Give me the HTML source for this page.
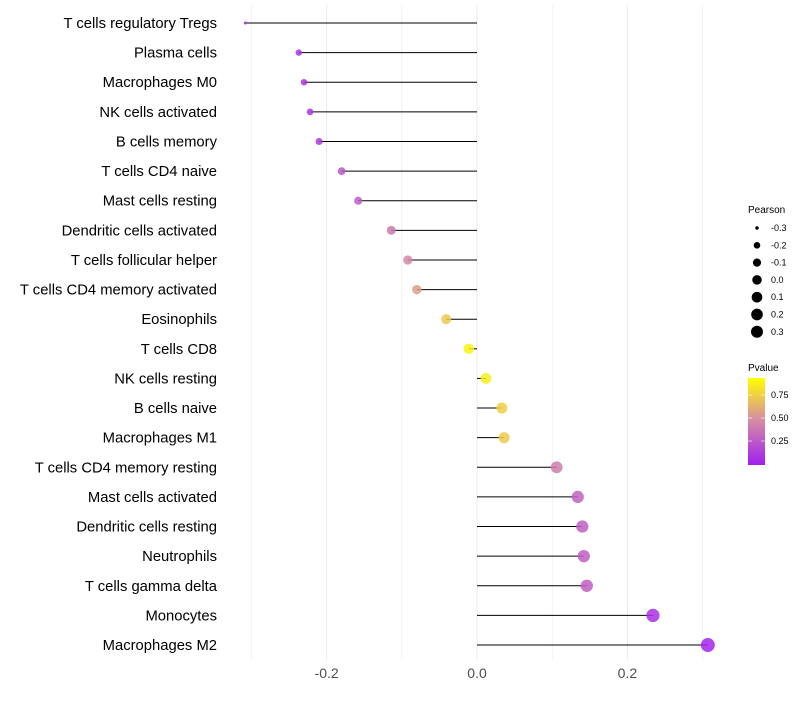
<!DOCTYPE html>
<html><head><meta charset="utf-8"><style>
body{margin:0;background:#fff;font-family:"Liberation Sans",sans-serif}
</style></head><body>
<svg id="chart" width="800" height="700" xmlns="http://www.w3.org/2000/svg">
<defs><linearGradient id="pg" x1="0" y1="1" x2="0" y2="0">
<stop offset="0" stop-color="#A020F0"/><stop offset="0.535" stop-color="#D890A0"/><stop offset="1" stop-color="#FFFF00"/></linearGradient></defs>
<g id="grid"></g><g id="marks"></g><g id="labels"></g><g id="xaxis"></g>
<g font-size="9" fill="#000">
<text x="748" y="213" font-size="10">Pearson</text>
<g id="sizeleg"></g></g>
<g font-size="9">
<text x="748" y="371" font-size="10">Pvalue</text>
<rect x="748" y="378" width="17" height="87" fill="url(#pg)"/>
<g id="cbticks"></g></g>
</svg>
<script>
const categories=["T cells regulatory  Tregs","Plasma cells","Macrophages M0","NK cells activated","B cells memory","T cells CD4 naive","Mast cells resting","Dendritic cells activated","T cells follicular helper","T cells CD4 memory activated","Eosinophils","T cells CD8","NK cells resting","B cells naive","Macrophages M1","T cells CD4 memory resting","Mast cells activated","Dendritic cells resting","Neutrophils","T cells gamma delta","Monocytes","Macrophages M2"];
const pearson=[-0.308,-0.237,-0.230,-0.222,-0.210,-0.180,-0.158,-0.114,-0.092,-0.080,-0.041,-0.011,0.012,0.033,0.036,0.106,0.134,0.140,0.142,0.146,0.234,0.307];
const pvalue=[0.04,0.08,0.09,0.11,0.12,0.25,0.3,0.42,0.5,0.6,0.78,0.95,0.93,0.8,0.78,0.45,0.32,0.3,0.3,0.3,0.08,0.03];
const xTicks=[-0.2,0,0.2];
const xGrid=[-0.3,-0.2,-0.1,0,0.1,0.2,0.3];
const sizeLegend=[-0.3,-0.2,-0.1,0.0,0.1,0.2,0.3];
const pTicks=[0.25,0.5,0.75];
const NS="http://www.w3.org/2000/svg";
const x=v=>477+v*752;
const y=i=>23+i*29.62;
const r=v=>1.2+Math.sqrt(Math.max(0,(v+0.31)/0.62))*5.8;
const pY=p=>464-p*92;
function lerp(a,b,t){return a.map((c,k)=>Math.round(c+(b[k]-c)*t));}
function col(p){const s0=[160,32,240],s1=[216,144,160],s2=[255,255,0];
 const c=p<0.535?lerp(s0,s1,p/0.535):lerp(s1,s2,Math.min(1,(p-0.535)/0.465));return `rgb(${c.join(',')})`;}
function mk(t,a,parent){const e=document.createElementNS(NS,t);for(const k in a)e.setAttribute(k,a[k]);parent.appendChild(e);return e;}
const grid=document.getElementById('grid'),marks=document.getElementById('marks'),labels=document.getElementById('labels'),xa=document.getElementById('xaxis');
xGrid.forEach(v=>{const xv=x(v);if(xv<240||xv>730)return;
 const l=mk('line',{x1:xv,x2:xv,y1:5,y2:660,stroke:'#ebebeb','stroke-width':xTicks.includes(v)?1:0.6},grid);
 
 });
categories.forEach((c,i)=>{
 const t=mk('text',{x:217,y:y(i)+5,'text-anchor':'end','font-size':14.8,fill:'#000'},labels);t.textContent=c;
 
 
 const l=mk('line',{x1:x(0),x2:x(pearson[i]),y1:y(i),y2:y(i),stroke:'#000','stroke-width':1},marks);
 
 
 const p=mk('circle',{cx:x(pearson[i]),cy:y(i),r:r(pearson[i]),fill:col(pvalue[i]),'fill-opacity':0.85},marks);
 
 
});
xTicks.forEach(v=>{const t=mk('text',{x:x(v),y:678,'text-anchor':'middle','font-size':14,fill:'#4d4d4d'},xa);t.textContent=v===0?'0.0':v.toFixed(1);
 
 });
const sl=document.getElementById('sizeleg');
sizeLegend.forEach((v,i)=>{const cy=228+i*17.3;
 const c=mk('circle',{cx:757,cy:cy,r:Math.min(6,r(v)*0.9),fill:'#000'},sl);
 
 
 const t=mk('text',{x:771,y:cy+3,'font-size':9},sl);t.textContent=v.toFixed(1);
 
 });
const cb=document.getElementById('cbticks');
pTicks.forEach(p=>{const yy=pY(p);
 mk('line',{x1:748,x2:752,y1:yy,y2:yy,stroke:'#fff','stroke-opacity':0.6},cb);
 mk('line',{x1:761,x2:765,y1:yy,y2:yy,stroke:'#fff','stroke-opacity':0.6},cb);
 const t=mk('text',{x:771,y:yy+3,'font-size':9},cb);t.textContent=p.toFixed(2);
 
 });
</script>
</body></html>
